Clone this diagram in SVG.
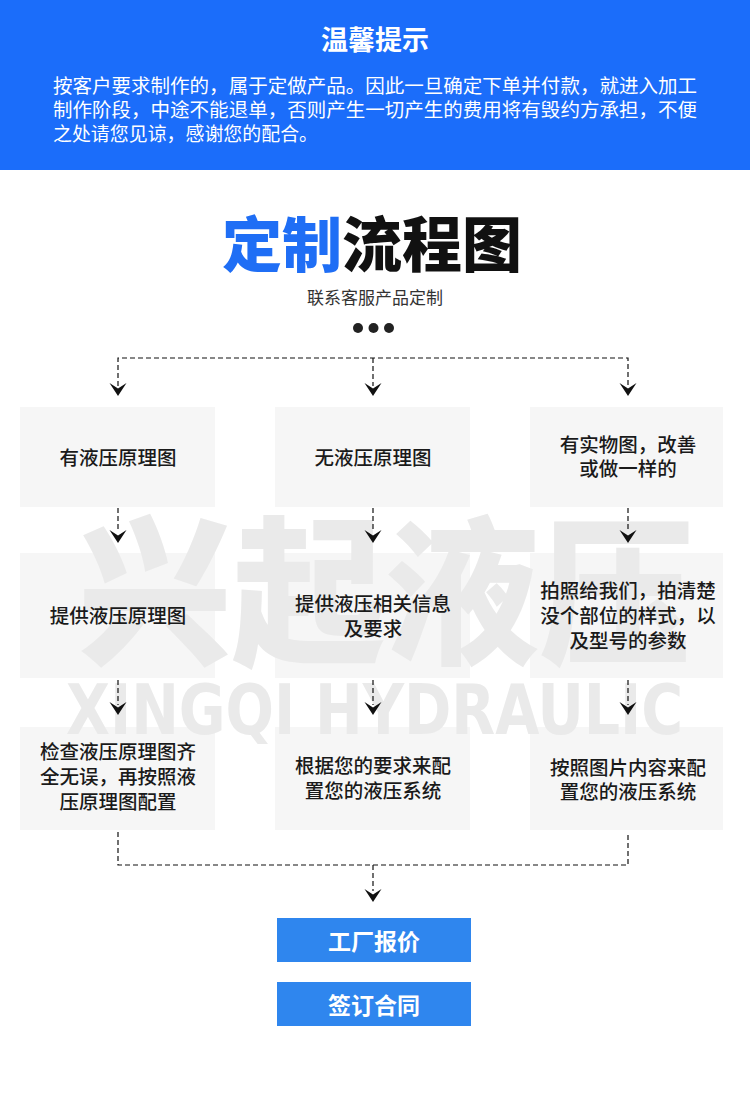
<svg xmlns="http://www.w3.org/2000/svg" width="750" height="1100" viewBox="0 0 750 1100">
<defs>
<style>
.cjk{font-family:"Noto Sans CJK SC","Noto Sans",sans-serif;}
.box{fill:#f6f6f6;}
.bt{font-family:"Noto Sans CJK SC",sans-serif;font-size:19.5px;font-weight:500;fill:#1a1a1a;text-anchor:middle;}
.dash{fill:none;stroke:#111;stroke-width:1.2;stroke-dasharray:5 3;}
.btn{fill:#2f86ee;}
.btt{font-family:"Noto Sans CJK SC",sans-serif;font-size:23px;font-weight:700;fill:#fff;text-anchor:middle;}
</style>
<path id="ah" d="M-8.5,-13 L0,-7.5 L8.5,-13 L0,0 Z" fill="#111"/>
</defs>
<rect width="750" height="1100" fill="#fff"/>
<g id="header">
<rect x="0" y="0" width="750" height="170" fill="#1b6dfa"/>
<text x="375" y="50" class="cjk" font-size="27" font-weight="700" fill="#fff" text-anchor="middle">温馨提示</text>
<text x="53" y="93" class="cjk" font-size="19" fill="#fff" textLength="644" lengthAdjust="spacingAndGlyphs">按客户要求制作的，属于定做产品。因此一旦确定下单并付款，就进入加工</text>
<text x="53" y="117" class="cjk" font-size="19" fill="#fff" textLength="644" lengthAdjust="spacingAndGlyphs">制作阶段，中途不能退单，否则产生一切产生的费用将有毁约方承担，不便</text>
<text x="53" y="141" class="cjk" font-size="19" fill="#fff" textLength="265" lengthAdjust="spacingAndGlyphs">之处请您见谅，感谢您的配合。</text>
</g>
<g id="title">
<text x="222" y="267" class="cjk" font-size="60" font-weight="900" textLength="300" lengthAdjust="spacingAndGlyphs"><tspan fill="#1f6ef5">定制</tspan><tspan fill="#111">流程图</tspan></text>
<text x="375" y="304" class="cjk" font-size="17" fill="#333" text-anchor="middle">联系客服产品定制</text>
<circle cx="358" cy="328" r="5" fill="#222"/>
<circle cx="373.5" cy="328" r="5" fill="#222"/>
<circle cx="389" cy="328" r="5" fill="#222"/>
</g>
<g id="boxes-bg">
<rect class="box" x="20" y="407" width="195" height="100"/>
<rect class="box" x="275" y="407" width="195" height="100"/>
<rect class="box" x="530" y="407" width="193" height="100"/>
<rect class="box" x="20" y="553" width="195" height="125"/>
<rect class="box" x="275" y="553" width="195" height="125"/>
<rect class="box" x="530" y="553" width="193" height="125"/>
<rect class="box" x="20" y="727" width="195" height="103"/>
<rect class="box" x="275" y="727" width="195" height="103"/>
<rect class="box" x="530" y="727" width="193" height="103"/>
</g>
<g id="watermark" fill="#eaeaea">
<text x="78" y="652" font-family="Noto Sans CJK SC,sans-serif" font-size="160" font-weight="900" textLength="615" lengthAdjust="spacingAndGlyphs">兴起液压</text>
<text x="66" y="734" font-family="DejaVu Sans Condensed,DejaVu Sans,sans-serif" font-size="70" font-weight="700" textLength="617" lengthAdjust="spacingAndGlyphs">XINGQI HYDRAULIC</text>
</g>
<g id="connectors">
<path class="dash" d="M118,386 V358 H628 V386 M373,358 V386"/>
<use href="#ah" x="118" y="396"/>
<use href="#ah" x="373" y="396"/>
<use href="#ah" x="628" y="396"/>
<path class="dash" d="M118,508 V532 M373,508 V532 M628,508 V532"/>
<use href="#ah" x="118" y="543"/>
<use href="#ah" x="373" y="543"/>
<use href="#ah" x="628" y="543"/>
<path class="dash" d="M118,680 V705 M373,680 V705 M628,680 V705"/>
<use href="#ah" x="118" y="715"/>
<use href="#ah" x="373" y="715"/>
<use href="#ah" x="628" y="715"/>
<path class="dash" d="M118,832 V865 H628 V832 M373,865 V891"/>
<use href="#ah" x="373" y="902"/>
</g>
<g id="n1"><text class="bt" x="118" y="465">有液压原理图</text></g>
<g id="n2"><text class="bt" x="373" y="465">无液压原理图</text></g>
<g id="n3"><text class="bt" x="628" y="452">有实物图，改善</text><text class="bt" x="628" y="476">或做一样的</text></g>
<g id="n4"><text class="bt" x="118" y="623">提供液压原理图</text></g>
<g id="n5"><text class="bt" x="373" y="611">提供液压相关信息</text><text class="bt" x="373" y="636">及要求</text></g>
<g id="n6"><text class="bt" x="628" y="598">拍照给我们，拍清楚</text><text class="bt" x="628" y="623">没个部位的样式，以</text><text class="bt" x="628" y="648">及型号的参数</text></g>
<g id="n7"><text class="bt" x="118" y="759">检查液压原理图齐</text><text class="bt" x="118" y="784">全无误，再按照液</text><text class="bt" x="118" y="809">压原理图配置</text></g>
<g id="n8"><text class="bt" x="373" y="773">根据您的要求来配</text><text class="bt" x="373" y="798">置您的液压系统</text></g>
<g id="n9"><text class="bt" x="628" y="775">按照图片内容来配</text><text class="bt" x="628" y="799">置您的液压系统</text></g>
<g id="btn1"><rect class="btn" x="277" y="918" width="194" height="44"/><text class="btt" x="374" y="950">工厂报价</text></g>
<g id="btn2"><rect class="btn" x="277" y="982" width="194" height="44"/><text class="btt" x="374" y="1014">签订合同</text></g>
</svg>
